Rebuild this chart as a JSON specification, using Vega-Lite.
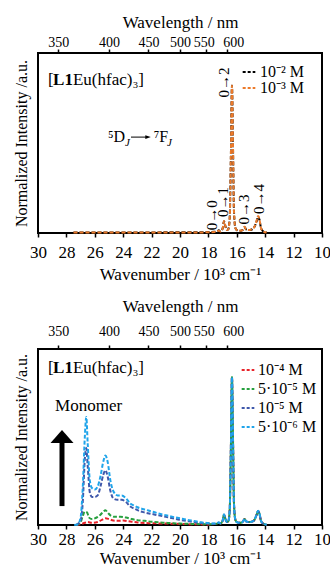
{
  "$schema": "https://vega.github.io/schema/vega-lite/v6.json",
  "padding": {"left": 12, "top": 12, "right": 0, "bottom": 0},
  "spacing": 13,
  "config": {
    "font": "Liberation Serif",
    "view": {"stroke": "#000", "strokeWidth": 2},
    "axis": {"grid": false, "domain": false, "tickColor": "#000", "tickWidth": 1.5, "labelColor": "#000", "titleColor": "#000", "titleFontWeight": "normal", "labelFont": "Liberation Serif", "titleFont": "Liberation Serif", "labelFlush": false, "labelOverlap": false},
    "legend": {"labelFont": "Liberation Serif", "labelColor": "#000"},
    "text": {"font": "Liberation Serif", "color": "#000"}
  },
  "datasets": {
    "top": [
      {"wn": 27.5, "I": 0.004, "c": "10⁻² M"}, {"wn": 26, "I": 0.004, "c": "10⁻² M"}, {"wn": 24, "I": 0.004, "c": "10⁻² M"}, {"wn": 22, "I": 0.004, "c": "10⁻² M"}, {"wn": 20, "I": 0.005, "c": "10⁻² M"}, {"wn": 18.5, "I": 0.005, "c": "10⁻² M"}, {"wn": 18, "I": 0.006, "c": "10⁻² M"},
      {"wn": 17.6, "I": 0.008, "c": "10⁻² M"}, {"wn": 17.4, "I": 0.01, "c": "10⁻² M"}, {"wn": 17.27, "I": 0.018, "c": "10⁻² M"}, {"wn": 17.15, "I": 0.01, "c": "10⁻² M"}, {"wn": 17.0, "I": 0.03, "c": "10⁻² M"}, {"wn": 16.9, "I": 0.08, "c": "10⁻² M"}, {"wn": 16.8, "I": 0.045, "c": "10⁻² M"}, {"wn": 16.7, "I": 0.02, "c": "10⁻² M"}, {"wn": 16.6, "I": 0.025, "c": "10⁻² M"}, {"wn": 16.5, "I": 0.1, "c": "10⁻² M"}, {"wn": 16.42, "I": 0.5, "c": "10⁻² M"}, {"wn": 16.34, "I": 1.0, "c": "10⁻² M"}, {"wn": 16.27, "I": 0.6, "c": "10⁻² M"}, {"wn": 16.2, "I": 0.15, "c": "10⁻² M"}, {"wn": 16.1, "I": 0.035, "c": "10⁻² M"}, {"wn": 16.0, "I": 0.02, "c": "10⁻² M"}, {"wn": 15.8, "I": 0.015, "c": "10⁻² M"}, {"wn": 15.6, "I": 0.02, "c": "10⁻² M"}, {"wn": 15.45, "I": 0.04, "c": "10⁻² M"}, {"wn": 15.35, "I": 0.025, "c": "10⁻² M"}, {"wn": 15.1, "I": 0.02, "c": "10⁻² M"}, {"wn": 14.8, "I": 0.035, "c": "10⁻² M"}, {"wn": 14.6, "I": 0.08, "c": "10⁻² M"}, {"wn": 14.5, "I": 0.11, "c": "10⁻² M"}, {"wn": 14.4, "I": 0.09, "c": "10⁻² M"}, {"wn": 14.3, "I": 0.035, "c": "10⁻² M"}, {"wn": 14.15, "I": 0.012, "c": "10⁻² M"}, {"wn": 13.9, "I": 0.003, "c": "10⁻² M"},
      {"wn": 27.5, "I": 0.003, "c": "10⁻³ M"}, {"wn": 26, "I": 0.003, "c": "10⁻³ M"}, {"wn": 24, "I": 0.003, "c": "10⁻³ M"}, {"wn": 22, "I": 0.003, "c": "10⁻³ M"}, {"wn": 20, "I": 0.004, "c": "10⁻³ M"}, {"wn": 18.5, "I": 0.004, "c": "10⁻³ M"}, {"wn": 18, "I": 0.005, "c": "10⁻³ M"},
      {"wn": 17.6, "I": 0.007, "c": "10⁻³ M"}, {"wn": 17.4, "I": 0.01, "c": "10⁻³ M"}, {"wn": 17.27, "I": 0.016, "c": "10⁻³ M"}, {"wn": 17.15, "I": 0.01, "c": "10⁻³ M"}, {"wn": 17.0, "I": 0.03, "c": "10⁻³ M"}, {"wn": 16.9, "I": 0.082, "c": "10⁻³ M"}, {"wn": 16.8, "I": 0.045, "c": "10⁻³ M"}, {"wn": 16.7, "I": 0.02, "c": "10⁻³ M"}, {"wn": 16.6, "I": 0.025, "c": "10⁻³ M"}, {"wn": 16.5, "I": 0.1, "c": "10⁻³ M"}, {"wn": 16.42, "I": 0.5, "c": "10⁻³ M"}, {"wn": 16.34, "I": 1.0, "c": "10⁻³ M"}, {"wn": 16.27, "I": 0.6, "c": "10⁻³ M"}, {"wn": 16.2, "I": 0.15, "c": "10⁻³ M"}, {"wn": 16.1, "I": 0.035, "c": "10⁻³ M"}, {"wn": 16.0, "I": 0.02, "c": "10⁻³ M"}, {"wn": 15.8, "I": 0.015, "c": "10⁻³ M"}, {"wn": 15.6, "I": 0.02, "c": "10⁻³ M"}, {"wn": 15.45, "I": 0.042, "c": "10⁻³ M"}, {"wn": 15.35, "I": 0.025, "c": "10⁻³ M"}, {"wn": 15.1, "I": 0.02, "c": "10⁻³ M"}, {"wn": 14.8, "I": 0.035, "c": "10⁻³ M"}, {"wn": 14.6, "I": 0.085, "c": "10⁻³ M"}, {"wn": 14.5, "I": 0.115, "c": "10⁻³ M"}, {"wn": 14.4, "I": 0.09, "c": "10⁻³ M"}, {"wn": 14.3, "I": 0.035, "c": "10⁻³ M"}, {"wn": 14.15, "I": 0.012, "c": "10⁻³ M"}, {"wn": 13.9, "I": 0.003, "c": "10⁻³ M"}
    ],
    "bot": [
      {"wn": 27.3, "I": 0.0, "c": "10⁻⁴ M"}, {"wn": 27.0, "I": 0.005, "c": "10⁻⁴ M"}, {"wn": 26.7, "I": 0.015, "c": "10⁻⁴ M"}, {"wn": 26.5, "I": 0.02, "c": "10⁻⁴ M"}, {"wn": 26.2, "I": 0.015, "c": "10⁻⁴ M"}, {"wn": 25.8, "I": 0.02, "c": "10⁻⁴ M"}, {"wn": 25.5, "I": 0.035, "c": "10⁻⁴ M"}, {"wn": 25.25, "I": 0.045, "c": "10⁻⁴ M"}, {"wn": 25.0, "I": 0.04, "c": "10⁻⁴ M"}, {"wn": 24.7, "I": 0.03, "c": "10⁻⁴ M"}, {"wn": 24.3, "I": 0.028, "c": "10⁻⁴ M"}, {"wn": 24.0, "I": 0.03, "c": "10⁻⁴ M"}, {"wn": 23.6, "I": 0.025, "c": "10⁻⁴ M"}, {"wn": 23.2, "I": 0.02, "c": "10⁻⁴ M"}, {"wn": 22.8, "I": 0.015, "c": "10⁻⁴ M"}, {"wn": 22, "I": 0.012, "c": "10⁻⁴ M"}, {"wn": 21, "I": 0.01, "c": "10⁻⁴ M"}, {"wn": 20, "I": 0.007, "c": "10⁻⁴ M"}, {"wn": 19, "I": 0.005, "c": "10⁻⁴ M"}, {"wn": 18, "I": 0.004, "c": "10⁻⁴ M"},
      {"wn": 17.6, "I": 0.006, "c": "10⁻⁴ M"}, {"wn": 17.4, "I": 0.009, "c": "10⁻⁴ M"}, {"wn": 17.27, "I": 0.016, "c": "10⁻⁴ M"}, {"wn": 17.15, "I": 0.01, "c": "10⁻⁴ M"}, {"wn": 17.0, "I": 0.028, "c": "10⁻⁴ M"}, {"wn": 16.9, "I": 0.07, "c": "10⁻⁴ M"}, {"wn": 16.8, "I": 0.04, "c": "10⁻⁴ M"}, {"wn": 16.7, "I": 0.02, "c": "10⁻⁴ M"}, {"wn": 16.6, "I": 0.025, "c": "10⁻⁴ M"}, {"wn": 16.5, "I": 0.1, "c": "10⁻⁴ M"}, {"wn": 16.42, "I": 0.5, "c": "10⁻⁴ M"}, {"wn": 16.34, "I": 1.0, "c": "10⁻⁴ M"}, {"wn": 16.27, "I": 0.6, "c": "10⁻⁴ M"}, {"wn": 16.2, "I": 0.15, "c": "10⁻⁴ M"}, {"wn": 16.1, "I": 0.035, "c": "10⁻⁴ M"}, {"wn": 16.0, "I": 0.02, "c": "10⁻⁴ M"}, {"wn": 15.8, "I": 0.015, "c": "10⁻⁴ M"}, {"wn": 15.6, "I": 0.02, "c": "10⁻⁴ M"}, {"wn": 15.45, "I": 0.04, "c": "10⁻⁴ M"}, {"wn": 15.35, "I": 0.025, "c": "10⁻⁴ M"}, {"wn": 15.1, "I": 0.02, "c": "10⁻⁴ M"}, {"wn": 14.8, "I": 0.03, "c": "10⁻⁴ M"}, {"wn": 14.6, "I": 0.07, "c": "10⁻⁴ M"}, {"wn": 14.5, "I": 0.095, "c": "10⁻⁴ M"}, {"wn": 14.4, "I": 0.075, "c": "10⁻⁴ M"}, {"wn": 14.3, "I": 0.03, "c": "10⁻⁴ M"}, {"wn": 14.15, "I": 0.01, "c": "10⁻⁴ M"}, {"wn": 13.9, "I": 0.002, "c": "10⁻⁴ M"},
      {"wn": 27.3, "I": 0.0, "c": "5·10⁻⁵ M"}, {"wn": 27.0, "I": 0.02, "c": "5·10⁻⁵ M"}, {"wn": 26.85, "I": 0.06, "c": "5·10⁻⁵ M"}, {"wn": 26.7, "I": 0.09, "c": "5·10⁻⁵ M"}, {"wn": 26.55, "I": 0.085, "c": "5·10⁻⁵ M"}, {"wn": 26.4, "I": 0.05, "c": "5·10⁻⁵ M"}, {"wn": 26.2, "I": 0.04, "c": "5·10⁻⁵ M"}, {"wn": 26.0, "I": 0.045, "c": "5·10⁻⁵ M"}, {"wn": 25.8, "I": 0.055, "c": "5·10⁻⁵ M"}, {"wn": 25.6, "I": 0.07, "c": "5·10⁻⁵ M"}, {"wn": 25.4, "I": 0.09, "c": "5·10⁻⁵ M"}, {"wn": 25.25, "I": 0.1, "c": "5·10⁻⁵ M"}, {"wn": 25.1, "I": 0.085, "c": "5·10⁻⁵ M"}, {"wn": 24.9, "I": 0.065, "c": "5·10⁻⁵ M"}, {"wn": 24.6, "I": 0.055, "c": "5·10⁻⁵ M"}, {"wn": 24.2, "I": 0.055, "c": "5·10⁻⁵ M"}, {"wn": 23.8, "I": 0.05, "c": "5·10⁻⁵ M"}, {"wn": 23.4, "I": 0.04, "c": "5·10⁻⁵ M"}, {"wn": 23, "I": 0.033, "c": "5·10⁻⁵ M"}, {"wn": 22.5, "I": 0.028, "c": "5·10⁻⁵ M"}, {"wn": 22, "I": 0.022, "c": "5·10⁻⁵ M"}, {"wn": 21.5, "I": 0.018, "c": "5·10⁻⁵ M"}, {"wn": 21, "I": 0.015, "c": "5·10⁻⁵ M"}, {"wn": 20.5, "I": 0.012, "c": "5·10⁻⁵ M"}, {"wn": 20, "I": 0.01, "c": "5·10⁻⁵ M"}, {"wn": 19.5, "I": 0.008, "c": "5·10⁻⁵ M"}, {"wn": 19, "I": 0.007, "c": "5·10⁻⁵ M"}, {"wn": 18.5, "I": 0.005, "c": "5·10⁻⁵ M"}, {"wn": 18, "I": 0.005, "c": "5·10⁻⁵ M"},
      {"wn": 17.6, "I": 0.006, "c": "5·10⁻⁵ M"}, {"wn": 17.4, "I": 0.009, "c": "5·10⁻⁵ M"}, {"wn": 17.27, "I": 0.016, "c": "5·10⁻⁵ M"}, {"wn": 17.15, "I": 0.01, "c": "5·10⁻⁵ M"}, {"wn": 17.0, "I": 0.028, "c": "5·10⁻⁵ M"}, {"wn": 16.9, "I": 0.07, "c": "5·10⁻⁵ M"}, {"wn": 16.8, "I": 0.04, "c": "5·10⁻⁵ M"}, {"wn": 16.7, "I": 0.02, "c": "5·10⁻⁵ M"}, {"wn": 16.6, "I": 0.025, "c": "5·10⁻⁵ M"}, {"wn": 16.5, "I": 0.1, "c": "5·10⁻⁵ M"}, {"wn": 16.42, "I": 0.5, "c": "5·10⁻⁵ M"}, {"wn": 16.34, "I": 1.0, "c": "5·10⁻⁵ M"}, {"wn": 16.27, "I": 0.6, "c": "5·10⁻⁵ M"}, {"wn": 16.2, "I": 0.15, "c": "5·10⁻⁵ M"}, {"wn": 16.1, "I": 0.035, "c": "5·10⁻⁵ M"}, {"wn": 16.0, "I": 0.02, "c": "5·10⁻⁵ M"}, {"wn": 15.8, "I": 0.015, "c": "5·10⁻⁵ M"}, {"wn": 15.6, "I": 0.02, "c": "5·10⁻⁵ M"}, {"wn": 15.45, "I": 0.04, "c": "5·10⁻⁵ M"}, {"wn": 15.35, "I": 0.025, "c": "5·10⁻⁵ M"}, {"wn": 15.1, "I": 0.02, "c": "5·10⁻⁵ M"}, {"wn": 14.8, "I": 0.03, "c": "5·10⁻⁵ M"}, {"wn": 14.6, "I": 0.07, "c": "5·10⁻⁵ M"}, {"wn": 14.5, "I": 0.095, "c": "5·10⁻⁵ M"}, {"wn": 14.4, "I": 0.075, "c": "5·10⁻⁵ M"}, {"wn": 14.3, "I": 0.03, "c": "5·10⁻⁵ M"}, {"wn": 14.15, "I": 0.01, "c": "5·10⁻⁵ M"}, {"wn": 13.9, "I": 0.002, "c": "5·10⁻⁵ M"},
      {"wn": 27.3, "I": 0.0, "c": "10⁻⁵ M"}, {"wn": 27.0, "I": 0.03, "c": "10⁻⁵ M"}, {"wn": 26.85, "I": 0.15, "c": "10⁻⁵ M"}, {"wn": 26.7, "I": 0.45, "c": "10⁻⁵ M"}, {"wn": 26.6, "I": 0.52, "c": "10⁻⁵ M"}, {"wn": 26.5, "I": 0.4, "c": "10⁻⁵ M"}, {"wn": 26.35, "I": 0.22, "c": "10⁻⁵ M"}, {"wn": 26.2, "I": 0.19, "c": "10⁻⁵ M"}, {"wn": 26.0, "I": 0.19, "c": "10⁻⁵ M"}, {"wn": 25.8, "I": 0.2, "c": "10⁻⁵ M"}, {"wn": 25.6, "I": 0.26, "c": "10⁻⁵ M"}, {"wn": 25.4, "I": 0.34, "c": "10⁻⁵ M"}, {"wn": 25.25, "I": 0.37, "c": "10⁻⁵ M"}, {"wn": 25.1, "I": 0.33, "c": "10⁻⁵ M"}, {"wn": 24.9, "I": 0.23, "c": "10⁻⁵ M"}, {"wn": 24.7, "I": 0.18, "c": "10⁻⁵ M"}, {"wn": 24.4, "I": 0.17, "c": "10⁻⁵ M"}, {"wn": 24.1, "I": 0.17, "c": "10⁻⁵ M"}, {"wn": 23.8, "I": 0.155, "c": "10⁻⁵ M"}, {"wn": 23.5, "I": 0.125, "c": "10⁻⁵ M"}, {"wn": 23.2, "I": 0.11, "c": "10⁻⁵ M"}, {"wn": 23, "I": 0.1, "c": "10⁻⁵ M"}, {"wn": 22.5, "I": 0.085, "c": "10⁻⁵ M"}, {"wn": 22, "I": 0.075, "c": "10⁻⁵ M"}, {"wn": 21.5, "I": 0.065, "c": "10⁻⁵ M"}, {"wn": 21, "I": 0.055, "c": "10⁻⁵ M"}, {"wn": 20.5, "I": 0.045, "c": "10⁻⁵ M"}, {"wn": 20, "I": 0.035, "c": "10⁻⁵ M"}, {"wn": 19.5, "I": 0.027, "c": "10⁻⁵ M"}, {"wn": 19, "I": 0.02, "c": "10⁻⁵ M"}, {"wn": 18.5, "I": 0.013, "c": "10⁻⁵ M"}, {"wn": 18, "I": 0.01, "c": "10⁻⁵ M"},
      {"wn": 17.6, "I": 0.008, "c": "10⁻⁵ M"}, {"wn": 17.4, "I": 0.01, "c": "10⁻⁵ M"}, {"wn": 17.27, "I": 0.016, "c": "10⁻⁵ M"}, {"wn": 17.15, "I": 0.01, "c": "10⁻⁵ M"}, {"wn": 17.0, "I": 0.028, "c": "10⁻⁵ M"}, {"wn": 16.9, "I": 0.07, "c": "10⁻⁵ M"}, {"wn": 16.8, "I": 0.04, "c": "10⁻⁵ M"}, {"wn": 16.7, "I": 0.02, "c": "10⁻⁵ M"}, {"wn": 16.6, "I": 0.025, "c": "10⁻⁵ M"}, {"wn": 16.5, "I": 0.1, "c": "10⁻⁵ M"}, {"wn": 16.42, "I": 0.5, "c": "10⁻⁵ M"}, {"wn": 16.34, "I": 1.0, "c": "10⁻⁵ M"}, {"wn": 16.27, "I": 0.6, "c": "10⁻⁵ M"}, {"wn": 16.2, "I": 0.15, "c": "10⁻⁵ M"}, {"wn": 16.1, "I": 0.035, "c": "10⁻⁵ M"}, {"wn": 16.0, "I": 0.02, "c": "10⁻⁵ M"}, {"wn": 15.8, "I": 0.015, "c": "10⁻⁵ M"}, {"wn": 15.6, "I": 0.02, "c": "10⁻⁵ M"}, {"wn": 15.45, "I": 0.04, "c": "10⁻⁵ M"}, {"wn": 15.35, "I": 0.025, "c": "10⁻⁵ M"}, {"wn": 15.1, "I": 0.02, "c": "10⁻⁵ M"}, {"wn": 14.8, "I": 0.03, "c": "10⁻⁵ M"}, {"wn": 14.6, "I": 0.07, "c": "10⁻⁵ M"}, {"wn": 14.5, "I": 0.095, "c": "10⁻⁵ M"}, {"wn": 14.4, "I": 0.075, "c": "10⁻⁵ M"}, {"wn": 14.3, "I": 0.03, "c": "10⁻⁵ M"}, {"wn": 14.15, "I": 0.01, "c": "10⁻⁵ M"}, {"wn": 13.9, "I": 0.002, "c": "10⁻⁵ M"},
      {"wn": 27.45, "I": 0.0, "c": "5·10⁻⁶ M"}, {"wn": 27.2, "I": 0.005, "c": "5·10⁻⁶ M"}, {"wn": 27.0, "I": 0.05, "c": "5·10⁻⁶ M"}, {"wn": 26.85, "I": 0.25, "c": "5·10⁻⁶ M"}, {"wn": 26.7, "I": 0.6, "c": "5·10⁻⁶ M"}, {"wn": 26.6, "I": 0.73, "c": "5·10⁻⁶ M"}, {"wn": 26.5, "I": 0.55, "c": "5·10⁻⁶ M"}, {"wn": 26.35, "I": 0.3, "c": "5·10⁻⁶ M"}, {"wn": 26.2, "I": 0.25, "c": "5·10⁻⁶ M"}, {"wn": 26.0, "I": 0.24, "c": "5·10⁻⁶ M"}, {"wn": 25.8, "I": 0.26, "c": "5·10⁻⁶ M"}, {"wn": 25.6, "I": 0.33, "c": "5·10⁻⁶ M"}, {"wn": 25.4, "I": 0.43, "c": "5·10⁻⁶ M"}, {"wn": 25.25, "I": 0.47, "c": "5·10⁻⁶ M"}, {"wn": 25.1, "I": 0.43, "c": "5·10⁻⁶ M"}, {"wn": 24.9, "I": 0.3, "c": "5·10⁻⁶ M"}, {"wn": 24.7, "I": 0.23, "c": "5·10⁻⁶ M"}, {"wn": 24.4, "I": 0.2, "c": "5·10⁻⁶ M"}, {"wn": 24.1, "I": 0.2, "c": "5·10⁻⁶ M"}, {"wn": 23.8, "I": 0.18, "c": "5·10⁻⁶ M"}, {"wn": 23.5, "I": 0.145, "c": "5·10⁻⁶ M"}, {"wn": 23.2, "I": 0.13, "c": "5·10⁻⁶ M"}, {"wn": 23, "I": 0.12, "c": "5·10⁻⁶ M"}, {"wn": 22.5, "I": 0.105, "c": "5·10⁻⁶ M"}, {"wn": 22, "I": 0.092, "c": "5·10⁻⁶ M"}, {"wn": 21.5, "I": 0.078, "c": "5·10⁻⁶ M"}, {"wn": 21, "I": 0.066, "c": "5·10⁻⁶ M"}, {"wn": 20.5, "I": 0.055, "c": "5·10⁻⁶ M"}, {"wn": 20, "I": 0.045, "c": "5·10⁻⁶ M"}, {"wn": 19.5, "I": 0.035, "c": "5·10⁻⁶ M"}, {"wn": 19, "I": 0.027, "c": "5·10⁻⁶ M"}, {"wn": 18.5, "I": 0.018, "c": "5·10⁻⁶ M"}, {"wn": 18, "I": 0.013, "c": "5·10⁻⁶ M"},
      {"wn": 17.6, "I": 0.01, "c": "5·10⁻⁶ M"}, {"wn": 17.4, "I": 0.011, "c": "5·10⁻⁶ M"}, {"wn": 17.27, "I": 0.018, "c": "5·10⁻⁶ M"}, {"wn": 17.15, "I": 0.012, "c": "5·10⁻⁶ M"}, {"wn": 17.0, "I": 0.03, "c": "5·10⁻⁶ M"}, {"wn": 16.9, "I": 0.072, "c": "5·10⁻⁶ M"}, {"wn": 16.8, "I": 0.04, "c": "5·10⁻⁶ M"}, {"wn": 16.7, "I": 0.02, "c": "5·10⁻⁶ M"}, {"wn": 16.6, "I": 0.025, "c": "5·10⁻⁶ M"}, {"wn": 16.5, "I": 0.1, "c": "5·10⁻⁶ M"}, {"wn": 16.42, "I": 0.5, "c": "5·10⁻⁶ M"}, {"wn": 16.34, "I": 1.0, "c": "5·10⁻⁶ M"}, {"wn": 16.27, "I": 0.6, "c": "5·10⁻⁶ M"}, {"wn": 16.2, "I": 0.15, "c": "5·10⁻⁶ M"}, {"wn": 16.1, "I": 0.035, "c": "5·10⁻⁶ M"}, {"wn": 16.0, "I": 0.02, "c": "5·10⁻⁶ M"}, {"wn": 15.8, "I": 0.015, "c": "5·10⁻⁶ M"}, {"wn": 15.6, "I": 0.02, "c": "5·10⁻⁶ M"}, {"wn": 15.45, "I": 0.042, "c": "5·10⁻⁶ M"}, {"wn": 15.35, "I": 0.025, "c": "5·10⁻⁶ M"}, {"wn": 15.1, "I": 0.02, "c": "5·10⁻⁶ M"}, {"wn": 14.8, "I": 0.03, "c": "5·10⁻⁶ M"}, {"wn": 14.6, "I": 0.072, "c": "5·10⁻⁶ M"}, {"wn": 14.5, "I": 0.097, "c": "5·10⁻⁶ M"}, {"wn": 14.4, "I": 0.077, "c": "5·10⁻⁶ M"}, {"wn": 14.3, "I": 0.03, "c": "5·10⁻⁶ M"}, {"wn": 14.15, "I": 0.01, "c": "5·10⁻⁶ M"}, {"wn": 13.9, "I": 0.002, "c": "5·10⁻⁶ M"}
    ]
  },
  "vconcat": [
    {
      "width": 284,
      "height": 180,
      "resolve": {"axis": {"x": "independent"}},
      "layer": [
        {
          "data": {"name": "top"},
          "mark": {"type": "line", "strokeWidth": 2, "strokeDash": [4, 2], "interpolate": "monotone"},
          "encoding": {
            "x": {"field": "wn", "type": "quantitative", "scale": {"domain": [10, 30], "reverse": true, "nice": false, "zero": false},
                  "axis": {"title": "Wavenumber / 10³ cm⁻¹", "values": [30, 28, 26, 24, 22, 20, 18, 16, 14, 12, 10], "format": "d", "labelFontSize": 17, "titleFontSize": 17, "tickSize": 4, "labelPadding": 7, "titlePadding": 6}},
            "y": {"field": "I", "type": "quantitative", "scale": {"domain": [0, 1.22], "nice": false},
                  "axis": {"title": "Normalized Intensity /a.u.", "labels": false, "ticks": false, "titleFontSize": 16, "titlePadding": 9, "minExtent": 0}},
            "color": {"field": "c", "type": "nominal", "scale": {"domain": ["10⁻² M", "10⁻³ M"], "range": ["#000000", "#ec7a2a"]},
                      "legend": {"title": null, "orient": "none", "legendX": 203, "legendY": 11, "symbolType": "stroke", "symbolStrokeWidth": 2, "symbolDash": [3, 2], "symbolSize": 160, "labelFontSize": 16, "rowPadding": -2, "labelOffset": 3}}
          }
        },
        {
          "data": {"name": "top"},
          "mark": {"type": "line", "opacity": 0},
          "encoding": {
            "x": {"field": "wn", "type": "quantitative",
                  "axis": {"orient": "top", "title": "Wavelength / nm", "values": [28.5714, 25, 22.2222, 20, 18.1818, 16.6667], "labelExpr": "format(10000/datum.value, '.0f')", "labelOffset": {"condition": [{"test": "datum.value < 17", "value": 6}, {"test": "datum.value < 19", "value": -2}], "value": 0}, "labelFontSize": 14, "titleFontSize": 17, "tickSize": 4, "labelPadding": 0, "titlePadding": 4}},
            "y": {"field": "I", "type": "quantitative"}
          }
        },
        {
          "data": {"values": [{"wn": 29.3, "I": 1.003, "t": "["}]},
          "mark": {"type": "text", "align": "left", "baseline": "alphabetic", "fontSize": 17},
          "encoding": {"x": {"field": "wn", "type": "quantitative", "axis": null}, "y": {"field": "I", "type": "quantitative"}, "text": {"field": "t"}}
        },
        {
          "data": {"values": [{"wn": 28.94, "I": 1.003, "t": "L1"}]},
          "mark": {"type": "text", "align": "left", "baseline": "alphabetic", "fontSize": 17, "fontWeight": "bold"},
          "encoding": {"x": {"field": "wn", "type": "quantitative", "axis": null}, "y": {"field": "I", "type": "quantitative"}, "text": {"field": "t"}}
        },
        {
          "data": {"values": [{"wn": 27.54, "I": 1.003, "t": "Eu(hfac)₃]"}]},
          "mark": {"type": "text", "align": "left", "baseline": "alphabetic", "fontSize": 17},
          "encoding": {"x": {"field": "wn", "type": "quantitative", "axis": null}, "y": {"field": "I", "type": "quantitative"}, "text": {"field": "t"}}
        },
        {
          "data": {"values": [{"wn": 25.07, "I": 0.617, "t": "⁵D"}, {"wn": 21.85, "I": 0.617, "t": "⁷F"}]},
          "mark": {"type": "text", "align": "left", "baseline": "alphabetic", "fontSize": 16},
          "encoding": {"x": {"field": "wn", "type": "quantitative", "axis": null}, "y": {"field": "I", "type": "quantitative"}, "text": {"field": "t"}}
        },
        {
          "data": {"values": [{"wn": 23.45, "I": 0.65}]},
          "mark": {"type": "rule", "strokeWidth": 1, "color": "#000"},
          "encoding": {"x": {"field": "wn", "type": "quantitative", "axis": null}, "x2": {"datum": 22.3}, "y": {"field": "I", "type": "quantitative"}}
        },
        {
          "data": {"values": [{"wn": 22.25, "I": 0.65}]},
          "mark": {"type": "point", "shape": "M-1,-0.7L1,0L-1,0.7Z", "size": 30, "filled": true, "color": "#000", "opacity": 1, "strokeWidth": 0},
          "encoding": {"x": {"field": "wn", "type": "quantitative", "axis": null}, "y": {"field": "I", "type": "quantitative"}}
        },
        {
          "data": {"values": [{"wn": 23.87, "I": 0.59, "t": "J"}, {"wn": 20.92, "I": 0.59, "t": "J"}]},
          "mark": {"type": "text", "align": "left", "baseline": "alphabetic", "fontSize": 11, "fontStyle": "italic"},
          "encoding": {"x": {"field": "wn", "type": "quantitative", "axis": null}, "y": {"field": "I", "type": "quantitative"}, "text": {"field": "t"}}
        },
        {
          "data": {"values": [{"wn": 17.75, "I": 0.12, "t": "0→0"}, {"wn": 16.97, "I": 0.21, "t": "0→1"}, {"wn": 16.9, "I": 1.02, "t": "0→2"}, {"wn": 15.49, "I": 0.16, "t": "0→3"}, {"wn": 14.44, "I": 0.23, "t": "0→4"}]},
          "mark": {"type": "text", "align": "center", "baseline": "middle", "angle": 270, "fontSize": 15},
          "encoding": {"x": {"field": "wn", "type": "quantitative", "axis": null}, "y": {"field": "I", "type": "quantitative"}, "text": {"field": "t"}}
        }
      ]
    },
    {
      "width": 284,
      "height": 176,
      "resolve": {"axis": {"x": "independent"}},
      "layer": [
        {
          "data": {"name": "bot"},
          "mark": {"type": "line", "strokeWidth": 2, "strokeDash": [4, 2], "interpolate": "monotone"},
          "encoding": {
            "x": {"field": "wn", "type": "quantitative", "scale": {"domain": [10, 30], "reverse": true, "nice": false, "zero": false},
                  "axis": {"title": "Wavenumber / 10³ cm⁻¹", "values": [30, 28, 26, 24, 22, 20, 18, 16, 14, 12, 10], "format": "d", "labelFontSize": 17, "titleFontSize": 17, "tickSize": 4, "labelPadding": 2, "titlePadding": 3}},
            "y": {"field": "I", "type": "quantitative", "scale": {"domain": [0, 1.19], "nice": false},
                  "axis": {"title": "Normalized Intensity /a.u.", "labels": false, "ticks": false, "titleFontSize": 16, "titlePadding": 9, "minExtent": 0}},
            "color": {"field": "c", "type": "nominal", "scale": {"domain": ["10⁻⁴ M", "5·10⁻⁵ M", "10⁻⁵ M", "5·10⁻⁶ M"], "range": ["#e8232a", "#27a03e", "#3f58ab", "#1fa4ea"]},
                      "legend": {"title": null, "orient": "none", "legendX": 202, "legendY": 13, "symbolType": "stroke", "symbolStrokeWidth": 2, "symbolDash": [3, 2], "symbolSize": 160, "labelFontSize": 16, "rowPadding": 3, "labelOffset": 2}}
          }
        },
        {
          "data": {"name": "bot"},
          "mark": {"type": "line", "opacity": 0},
          "encoding": {
            "x": {"field": "wn", "type": "quantitative",
                  "axis": {"orient": "top", "title": "Wavelength / nm", "values": [28.5714, 25, 22.2222, 20, 18.1818, 16.6667], "labelExpr": "format(10000/datum.value, '.0f')", "labelOffset": {"condition": [{"test": "datum.value < 17", "value": 6}, {"test": "datum.value < 19", "value": -2}], "value": 0}, "labelFontSize": 14, "titleFontSize": 17, "tickSize": 4, "labelPadding": 7, "titlePadding": 9}},
            "y": {"field": "I", "type": "quantitative"}
          }
        },
        {
          "data": {"values": [{"wn": 29.3, "I": 1.028, "t": "["}]},
          "mark": {"type": "text", "align": "left", "baseline": "alphabetic", "fontSize": 17},
          "encoding": {"x": {"field": "wn", "type": "quantitative", "axis": null}, "y": {"field": "I", "type": "quantitative"}, "text": {"field": "t"}}
        },
        {
          "data": {"values": [{"wn": 28.94, "I": 1.028, "t": "L1"}]},
          "mark": {"type": "text", "align": "left", "baseline": "alphabetic", "fontSize": 17, "fontWeight": "bold"},
          "encoding": {"x": {"field": "wn", "type": "quantitative", "axis": null}, "y": {"field": "I", "type": "quantitative"}, "text": {"field": "t"}}
        },
        {
          "data": {"values": [{"wn": 27.54, "I": 1.028, "t": "Eu(hfac)₃]"}]},
          "mark": {"type": "text", "align": "left", "baseline": "alphabetic", "fontSize": 17},
          "encoding": {"x": {"field": "wn", "type": "quantitative", "axis": null}, "y": {"field": "I", "type": "quantitative"}, "text": {"field": "t"}}
        },
        {
          "data": {"values": [{"wn": 28.8, "I": 0.771, "t": "Monomer"}]},
          "mark": {"type": "text", "align": "left", "baseline": "alphabetic", "fontSize": 17},
          "encoding": {"x": {"field": "wn", "type": "quantitative", "axis": null}, "y": {"field": "I", "type": "quantitative"}, "text": {"field": "t"}}
        },
        {
          "data": {"values": [{"wn": 28.31, "I": 0.128, "I2": 0.56}]},
          "mark": {"type": "rule", "strokeWidth": 5, "color": "#000"},
          "encoding": {"x": {"field": "wn", "type": "quantitative", "axis": null}, "y": {"field": "I", "type": "quantitative"}, "y2": {"field": "I2"}}
        },
        {
          "data": {"values": [{"wn": 28.31, "I": 0.554}]},
          "mark": {"type": "point", "shape": "M0,-1.13L1,0L-1,0Z", "size": 529, "filled": true, "color": "#000", "opacity": 1, "strokeWidth": 0},
          "encoding": {"x": {"field": "wn", "type": "quantitative", "axis": null}, "y": {"field": "I", "type": "quantitative"}}
        }
      ]
    }
  ],
  "resolve": {"scale": {"color": "independent", "x": "independent", "y": "independent"}, "legend": {"color": "independent"}}
}
